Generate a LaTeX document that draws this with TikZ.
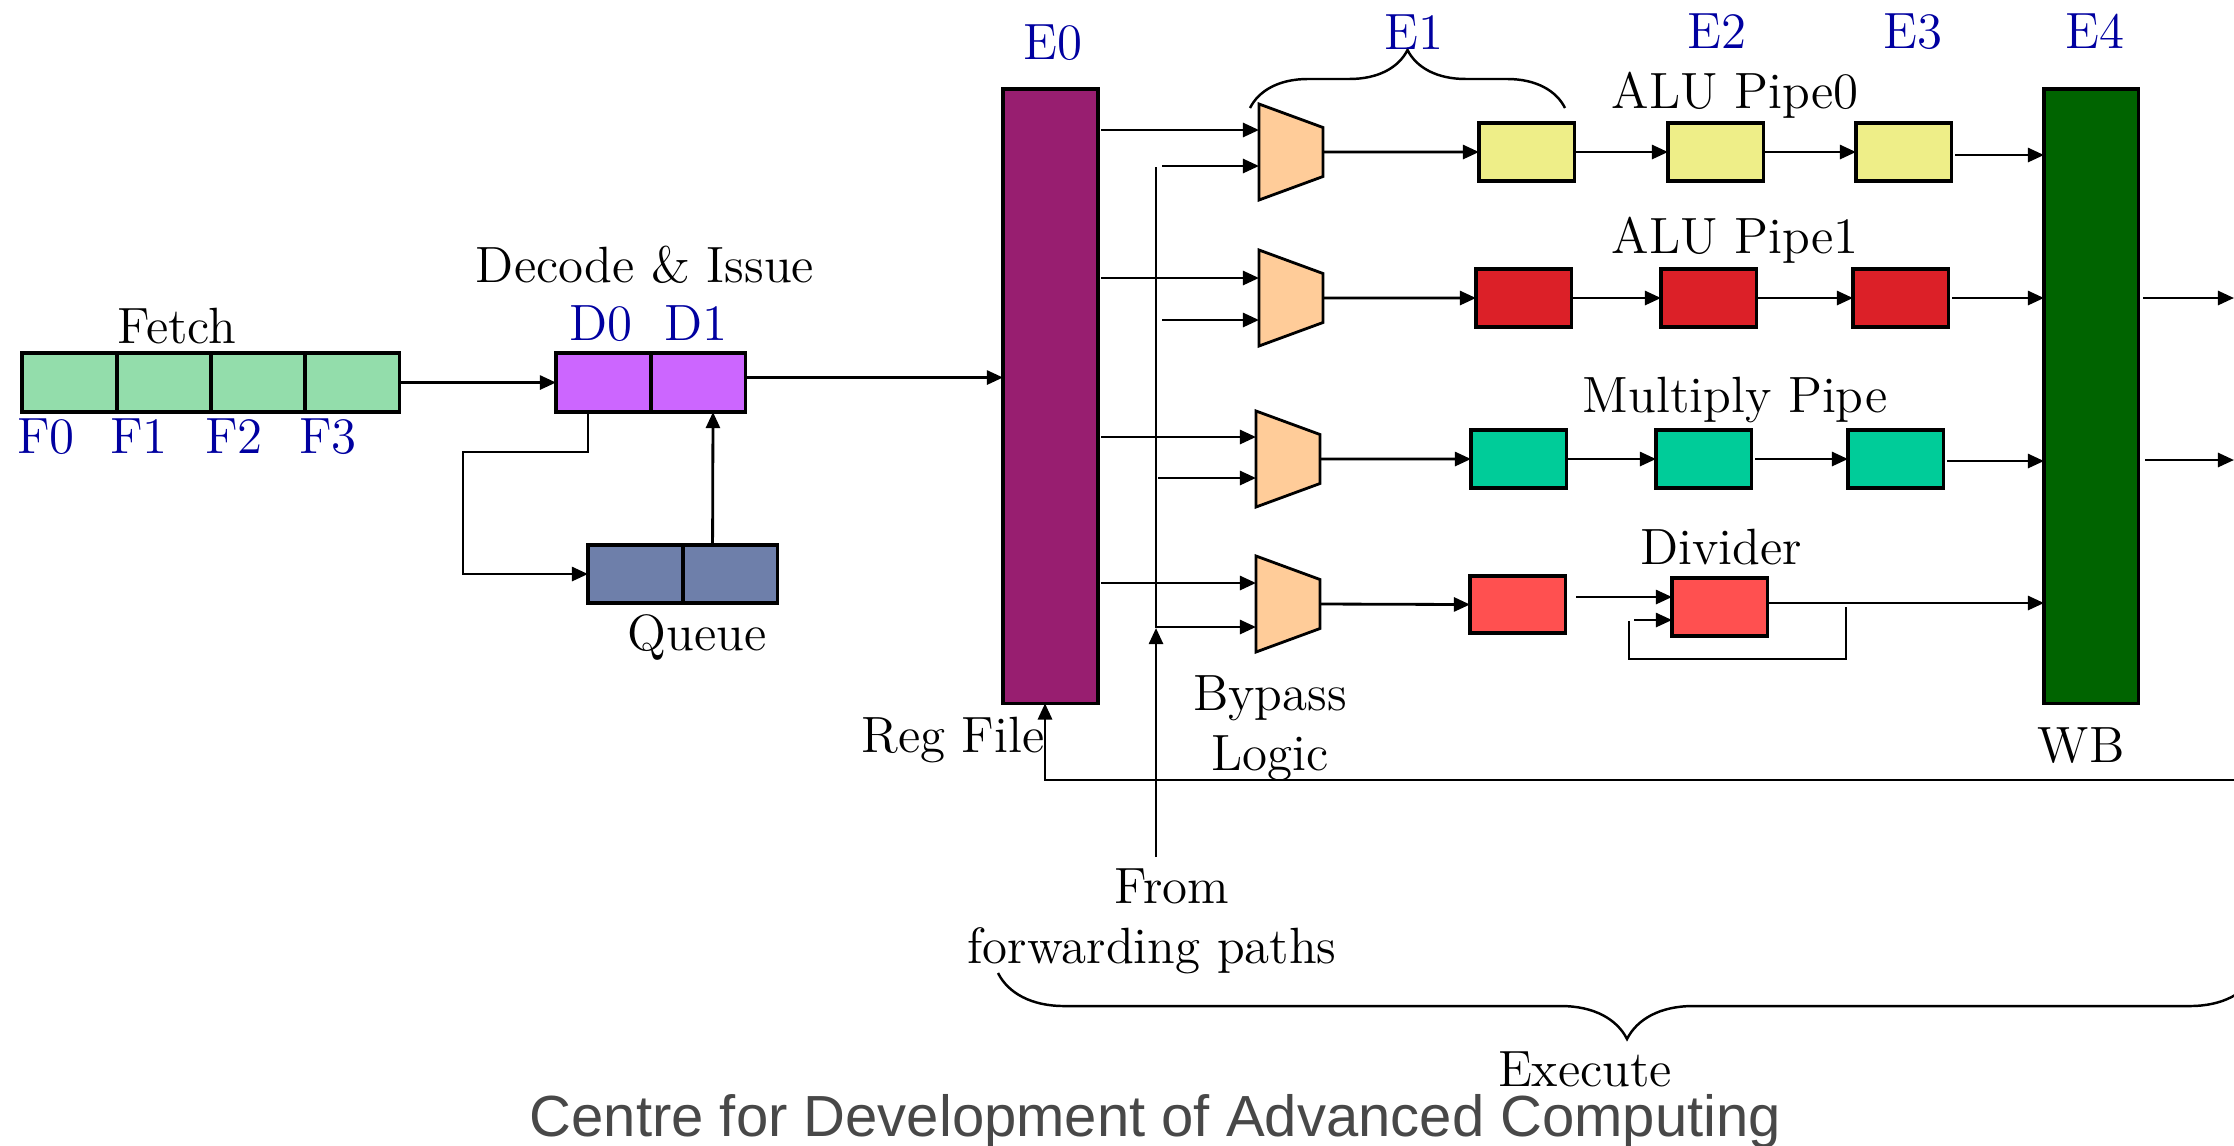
\documentclass[tikz,border=0pt]{standalone}
\usepackage{fontspec}
\newfontfamily\footfont{Liberation Sans}
\usetikzlibrary{arrows.meta,calc,decorations.pathreplacing}

\definecolor{fetchgreen}{RGB}{147,221,171}
\definecolor{decpurple}{RGB}{204,102,255}
\definecolor{queueblue}{RGB}{110,127,170}
\definecolor{regpurple}{RGB}{152,30,112}
\definecolor{muxorange}{RGB}{255,204,153}
\definecolor{aluyellow}{RGB}{238,238,136}
\definecolor{alured}{RGB}{220,32,40}
\definecolor{multeal}{RGB}{0,204,153}
\definecolor{divred}{RGB}{255,80,80}
\definecolor{wbgreen}{RGB}{0,100,0}
\definecolor{stageblue}{RGB}{0,0,160}
\definecolor{footgray}{RGB}{72,72,72}

\newcommand\lbfont{\fontsize{14.5}{17}\selectfont}

\begin{document}
\begin{tikzpicture}[x=0.01cm,y=-0.01cm,
  blk/.style={draw, line width=0.9pt, inner sep=0pt, outer sep=0pt, anchor=north west},
  cell/.style={blk, minimum width=0.945cm, minimum height=0.59cm},
  unit/.style={blk, minimum width=0.95cm, minimum height=0.58cm},
  arr/.style={line width=0.8pt, -{Triangle[length=4.6pt,width=4pt]}},
  wire/.style={line width=0.8pt},
  lbl/.style={font=\lbfont, inner sep=0pt, anchor=base},
  stg/.style={lbl, text=stageblue},
  mux/.pic={\draw[line width=0.8pt, fill=muxorange]
      (-32,-48) -- (32,-24.5) -- (32,24.5) -- (-32,48) -- cycle;}
]
\useasboundingbox (0,0) rectangle (2234,1145);

% ---------------- fetch, decode and queue ----------------
\foreach \i/\x in {0/22,1/117,2/211,3/305}
  \node[cell, fill=fetchgreen] (f\i) at (\x,353) {};
\node[cell, fill=decpurple] (d0) at (556,353) {};
\node[cell, fill=decpurple] (d1) at (651,353) {};
\node[cell, fill=queueblue, minimum height=0.58cm] (q0) at (588,545) {};
\node[cell, fill=queueblue, minimum height=0.58cm] (q1) at (683,545) {};

\node[lbl] (fetchlbl) at (177,343) {Fetch};
\node[stg] (F0) at (46,453) {F0};
\node[stg] (F1) at (139,453) {F1};
\node[stg] (F2) at (234,453) {F2};
\node[stg] (F3) at (328,453) {F3};
\node[lbl] (declbl) at (645,282) {Decode \& Issue};
\node[stg] (D0) at (601,340) {D0};
\node[stg] (D1) at (696,340) {D1};
\node[lbl] (queuelbl) at (697,650) {Queue};

% ---------------- register file and write back ----------------
\node[blk, fill=regpurple, minimum width=0.95cm, minimum height=6.14cm] (E0box) at (1003,89) {};
\node[blk, fill=wbgreen, minimum width=0.94cm, minimum height=6.14cm] (E4box) at (2044,89) {};

% ---------------- bypass multiplexers ----------------
\coordinate (m1) at (1291,152);
\coordinate (m2) at (1291,298);
\coordinate (m3) at (1288,459);
\coordinate (m4) at (1288,604);
\foreach \m in {m1,m2,m3,m4} \pic at (\m) {mux};
\coordinate (m1a) at ($(m1)+(-32,-22)$);
\coordinate (m1b) at ($(m1)+(-32,14)$);
\coordinate (m2a) at ($(m2)+(-32,-20)$);
\coordinate (m2b) at ($(m2)+(-32,22)$);
\coordinate (m3a) at ($(m3)+(-32,-22)$);
\coordinate (m3b) at ($(m3)+(-32,19)$);
\coordinate (m4a) at ($(m4)+(-32,-21)$);
\coordinate (m4b) at ($(m4)+(-32,23)$);

% ---------------- execution pipes ----------------
\node[unit, fill=aluyellow] (a1) at (1479,123) {};
\node[unit, fill=aluyellow] (a2) at (1668,123) {};
\node[unit, fill=aluyellow] (a3) at (1856,123) {};
\node[unit, fill=alured] (b1) at (1476,269) {};
\node[unit, fill=alured] (b2) at (1661,269) {};
\node[unit, fill=alured] (b3) at (1853,269) {};
\node[unit, fill=multeal] (c1) at (1471,430) {};
\node[unit, fill=multeal] (c2) at (1656,430) {};
\node[unit, fill=multeal] (c3) at (1848,430) {};
\node[unit, fill=divred, minimum height=0.57cm] (v1) at (1470,576) {};
\node[unit, fill=divred] (v2) at (1672,578) {};

% ---------------- connectors: front end ----------------
\draw[arr] (f3.east) -- (d0.west);
\draw[arr] ($(d1.east)+(0,-5)$) -- ($(d1.east -| E0box.west)+(0,-5)$);
\draw[arr] ($(d0.south west)+(32,0)$) |- (463,452) |- (q0.west);
\draw[arr] ($(q0.north east)+(30,0)$) -- ($(d1.south west)+(62,0)$);

% register file reads into the multiplexers
\foreach \p in {m1a,m2a,m3a,m4a}
  \draw[arr] ($(E0box.east |- \p)+(3,0)$) -- (\p);

% forwarding paths
\coordinate (fwd) at (1156,857);
\draw[arr] (fwd) -- (1156,628);
\draw[wire] (1156,628) -- (1156,167);
\draw[arr] ($(fwd |- m1b)+(6,0)$) -- (m1b);
\draw[arr] ($(fwd |- m2b)+(6,0)$) -- (m2b);
\draw[arr] ($(fwd |- m3b)+(2,0)$) -- (m3b);
\draw[arr] (fwd |- m4b) -- (m4b);

% multiplexer outputs
\draw[arr] ($(m1)+(32,0)$) -- (a1.west);
\draw[arr] ($(m2)+(32,0)$) -- (b1.west);
\draw[arr] ($(m3)+(32,0)$) -- (c1.west);
\draw[arr] ($(m4)+(32,0)$) -- (v1.west);

% pipe stages
\draw[arr] (a1.east) -- (a2.west);
\draw[arr] (a2.east) -- (a3.west);
\draw[arr] ($(a3.east)+(4,3)$) -- ($(a3.east -| E4box.west)+(0,3)$);
\draw[arr] (b1.east) -- (b2.west);
\draw[arr] (b2.east) -- (b3.west);
\draw[arr] ($(b3.east)+(4,0)$) -- (b3.east -| E4box.west);
\draw[arr] (c1.east) -- (c2.west);
\draw[arr] ($(c2.east)+(4,0)$) -- (c3.west);
\draw[arr] ($(c3.east)+(4,2)$) -- ($(c3.east -| E4box.west)+(0,2)$);

% divider with its iteration loop
\draw[arr] ($(v1.east)+(11,-7.5)$) -- ($(v2.west)+(0,-10)$);
\coordinate (vo) at ($(v2.east)+(0,-4)$);
\draw[arr] (vo) -- (vo -| E4box.west);
\draw[wire] ($(v2.east)+(79,0)$) |- ($(v2.west)+(-43,52)$) -- ($(v2.west)+(-43,14)$);
\draw[arr] ($(v2.west)+(-38,13)$) -- ($(v2.west)+(0,13)$);

% write-back outputs and register update
\coordinate (o1) at (2234,298);
\coordinate (o2) at (2234,460);
\draw[arr] ($(E4box.east |- o1)+(5,0)$) -- (o1);
\draw[arr] ($(E4box.east |- o2)+(7,0)$) -- (o2);
\coordinate (wbr) at (2234,780);
\draw[arr] (wbr) -| ($(E0box.south west)+(42,0)$);

% braces
\draw[line width=0.7pt, decorate, decoration={brace, amplitude=0.58cm}] (1250,108) -- (1565,108);
\draw[line width=0.7pt, decorate, decoration={brace, amplitude=0.66cm}] (2256,973) -- (998,973);

% ---------------- labels ----------------
\node[stg] (E0) at (1053,59) {E0};
\node[stg] (E1) at (1414,49) {E1};
\node[stg] (E2) at (1717,48) {E2};
\node[stg] (E3) at (1913,48) {E3};
\node[stg] (E4) at (2095,48) {E4};
\node[lbl] (alu0) at (1735,108) {ALU Pipe0};
\node[lbl] (alu1) at (1735,253) {ALU Pipe1};
\node[lbl] (mullbl) at (1735,412) {Multiply Pipe};
\node[lbl] (divlbl) at (1721,564) {Divider};
\node[lbl] (wblbl) at (2081,762) {WB};
\node[lbl, anchor=base east] (reglbl) at (1045,752) {Reg File};
\node[lbl] (bypass) at (1270,710) {Bypass};
\node[lbl] (logic) at (1270,770) {Logic};
\node[lbl] (from) at (1172,903) {From};
\node[lbl] (fwdlbl) at (1152,963) {forwarding paths};
\node[lbl] (exec) at (1585,1086) {Execute};

\node[anchor=base west, inner sep=0pt, text=footgray,
      font=\footfont\fontsize{16.5}{20}\selectfont] (cdac) at (529,1136)
      {Centre for Development of Advanced Computing};
\end{tikzpicture}
\end{document}
